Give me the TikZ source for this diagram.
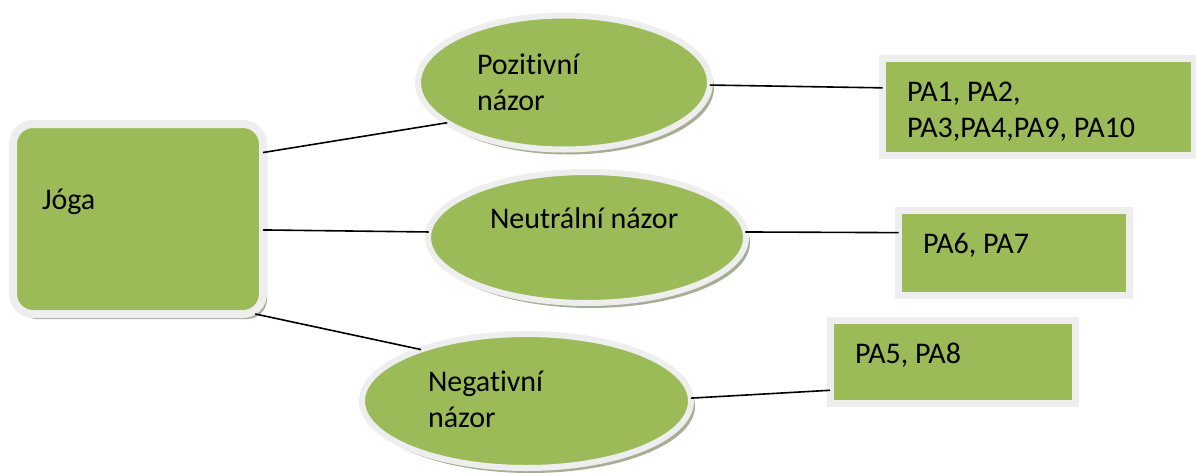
\documentclass[tikz,border=0pt]{standalone}
\usepackage{fontspec}
\setmainfont{Carlito}[Ligatures=NoCommon]
\usetikzlibrary{shapes.geometric,shadows}
\definecolor{leaf}{HTML}{9BBB59}
\definecolor{rim}{HTML}{EEEEEE}
\definecolor{shade}{RGB}{150,160,128}

\begin{document}
\begin{tikzpicture}[x=1pt,y=-1pt,
  every node/.style={inner sep=0pt, outer sep=0pt},
  softshadow/.style={drop shadow={shadow xshift=4pt, shadow yshift=-5pt, fill=shade, opacity=0.85}},
  bubble/.style={ellipse, fill=leaf, draw=rim, line width=6pt, softshadow},
  hub/.style={rectangle, rounded corners=20pt, fill=leaf, draw=rim, line width=8pt, softshadow},
  tag/.style={rectangle, fill=leaf, draw=rim, line width=7pt},
  label/.style={anchor=base west, align=left, font=\fontsize{30}{35.5}\selectfont},
  link/.style={draw=black, line width=1.6pt}]
\useasboundingbox (0,0) rectangle (1196,474);

% central box and the three opinion bubbles
\node[hub, minimum width=250pt, minimum height=190pt] (joga) at (138,219) {};
\node[bubble, minimum width=292pt, minimum height=134pt] (poz) at (564,82.5) {};
\node[bubble, minimum width=318pt, minimum height=131pt] (neu) at (587,237.5) {};
\node[bubble, minimum width=329pt, minimum height=134pt] (neg) at (526.5,401) {};

% respondent boxes
\node[tag, minimum width=312pt, minimum height=97pt] (pa1) at (1038.5,107) {};
\node[tag, minimum width=231pt, minimum height=85pt] (pa6) at (1014,253) {};
\node[tag, minimum width=245pt, minimum height=82.5pt] (pa5) at (952.5,362) {};

% connectors
\draw[link] (joga.28) -- (poz.199);
\draw[link] (joga.-5) -- (neu.178);
\draw[link] (joga.-39) -- (neg.154);
\draw[link] (poz.-1.5) -- (pa1.173);
\draw[link] (neu.2.5) -- (pa6.170);
\draw[link] (neg.1.75) -- (pa5.193.5);

% texts (multi-line nodes sit on the baseline of their last line)
\node[label] (tjoga) at (42,209) {Jóga};
\node[label] (tpoz) at (477,110) {Pozitivní\\názor};
\node[label] (tneu) at (490,228) {Neutrální názor};
\node[label] (tneg) at (428,427) {Negativní\\názor};
\node[label] (tpa1) at (907,137) {PA1, PA2,\\PA3,PA4,PA9, PA10};
\node[label] (tpa6) at (923,253) {PA6, PA7};
\node[label] (tpa5) at (855,363) {PA5, PA8};
\end{tikzpicture}
\end{document}
